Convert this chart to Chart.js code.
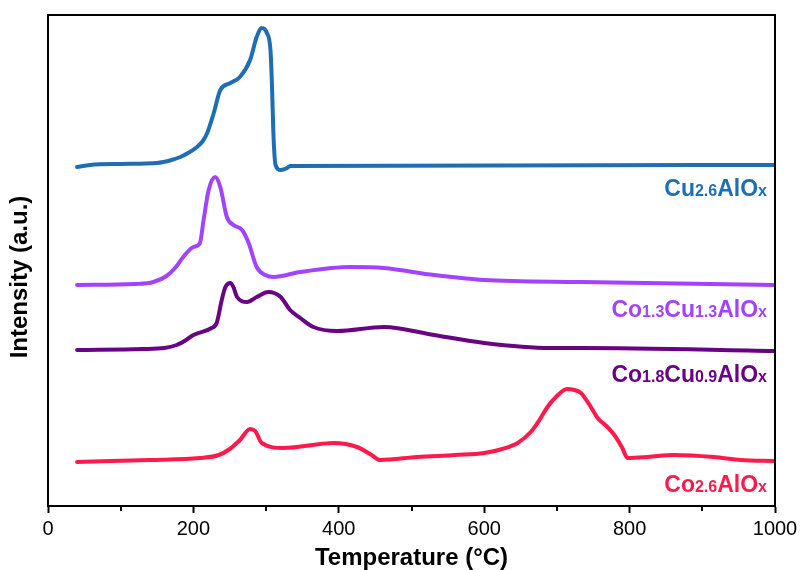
<!DOCTYPE html>
<html>
<head>
<meta charset="utf-8">
<script src="https://cdn.jsdelivr.net/npm/chart.js@4/dist/chart.umd.min.js"></script>
<style>
  body { margin: 0; background: #fff; }
  #wrap { width: 802px; height: 570px; }
</style>
</head>
<body>
<div id="wrap"><canvas id="tprChart" width="802" height="570"></canvas></div>
<script>
// H2-TPR profiles, intensity in arbitrary units (curves offset vertically)
const cuTemp   = [40, 58, 100, 150, 170, 182, 195, 205, 213, 219, 228, 237, 251, 264, 278, 287, 294, 301, 306, 308, 310, 313, 320, 329, 333, 1000];
const cuInt    = [339, 341, 342, 343, 346, 349, 354, 359, 365, 373, 393, 416, 423, 429, 446, 469, 478, 473, 456, 423, 373, 341, 336, 338, 340, 341];

const co13Temp = [40, 120, 145, 163, 176, 186, 200, 209, 214, 221, 230, 237, 246, 255, 267, 276, 287, 299, 310, 347, 416, 462, 531, 600, 733, 1000];
const co13Int  = [221, 222, 224, 230, 239, 249, 259, 263, 286, 316, 329, 319, 289, 281, 276, 263, 239, 231, 229, 234, 239, 238, 231, 226, 224, 221];

const co18Temp = [40, 130, 160, 177, 190, 200, 225, 232, 239, 244, 251, 255, 260, 274, 287, 303, 320, 333, 347, 365, 398, 462, 531, 600, 691, 733, 1000];
const co18Int  = [156, 157, 158, 161, 166, 171, 178, 183, 206, 219, 223, 219, 209, 204, 209, 214, 209, 196, 188, 179, 175, 179, 171, 163, 158, 158, 155];

const co26Temp = [40, 140, 209, 235, 250, 264, 278, 285, 294, 324, 393, 425, 445, 457, 508, 560, 600, 625, 646, 664, 676, 687, 700, 714, 724, 733, 745, 756, 768, 779, 790, 797, 825, 861, 916, 953, 1000];
const co26Int  = [44, 46, 48, 51, 57, 66, 77, 75, 63, 58, 63, 59, 51, 46, 49, 51, 53, 57, 63, 74, 86, 99, 110, 117, 116, 113, 101, 88, 80, 71, 58, 48, 49, 51, 49, 46, 45];

const xTicks = [0, 200, 400, 600, 800, 1000];
const xMinorTicks = [100, 300, 500, 700, 900];

// sample labels: [text, isSubscript] parts, and the intensity level of the baseline
const labelParts = [
    [['Cu', false], ['2.6', true], ['AlO', false], ['x', true]],
    [['Co', false], ['1.3', true], ['Cu', false], ['1.3', true], ['AlO', false], ['x', true]],
    [['Co', false], ['1.8', true], ['Cu', false], ['0.9', true], ['AlO', false], ['x', true]],
    [['Co', false], ['2.6', true], ['AlO', false], ['x', true]]
];
const labelLevel = [310, 189, 124, 14];
const colors = ['#1f6eb4', '#a143ff', '#680483', '#ff1a4b'];

function pts(xs, ys) {
    return xs.map((x, i) => ({ x: x, y: ys[i] }));
}

const FONT = '"Liberation Sans", Arial, Helvetica, sans-serif';

const framePlugin = {
    id: 'frame',
    afterDatasetsDraw(chart) {
        const ctx = chart.ctx;
        const a = chart.chartArea;
        const xs = chart.scales.x;
        const ys = chart.scales.y;
        ctx.save();
        // box
        ctx.strokeStyle = '#000';
        ctx.lineWidth = 2;
        ctx.strokeRect(a.left, a.top, a.right - a.left, a.bottom - a.top);
        // minor ticks
        xMinorTicks.forEach(v => {
            const px = Math.round(xs.getPixelForValue(v));
            ctx.beginPath();
            ctx.moveTo(px, a.bottom);
            ctx.lineTo(px, a.bottom + 5);
            ctx.stroke();
        });

        // sample labels, right aligned
        labelParts.forEach((parts, i) => {
            let widths = parts.map(p => {
                ctx.font = 'bold ' + (p[1] ? 16 : 23) + 'px ' + FONT;
                return ctx.measureText(p[0]).width;
            });
            const total = widths.reduce((s, w) => s + w, 0);
            let x = xs.getPixelForValue(1000) - 8 - total;
            const y = ys.getPixelForValue(labelLevel[i]);
            ctx.fillStyle = colors[i];
            ctx.textBaseline = 'alphabetic';
            ctx.textAlign = 'left';
            parts.forEach((p, j) => {
                ctx.font = 'bold ' + (p[1] ? 16 : 23) + 'px ' + FONT;
                ctx.fillText(p[0], x, y);
                x += widths[j];
            });
        });

        // y axis title
        ctx.translate(20, 277);
        ctx.rotate(-Math.PI / 2);
        ctx.font = 'bold 24px ' + FONT;
        ctx.fillStyle = '#000';
        ctx.textAlign = 'center';
        ctx.textBaseline = 'middle';
        ctx.fillText('Intensity (a.u.)', 0, 0);
        ctx.restore();
    }
};

const series = [
    { label: 'Cu2.6AlOx', data: pts(cuTemp, cuInt) },
    { label: 'Co1.3Cu1.3AlOx', data: pts(co13Temp, co13Int) },
    { label: 'Co1.8Cu0.9AlOx', data: pts(co18Temp, co18Int) },
    { label: 'Co2.6AlOx', data: pts(co26Temp, co26Int) }
];

new Chart(document.getElementById('tprChart'), {
    type: 'line',
    data: {
        datasets: series.map((s, i) => ({
            label: s.label,
            data: s.data,
            borderColor: colors[i],
            borderWidth: 4,
            pointRadius: 0,
            fill: false,
            cubicInterpolationMode: 'monotone',
            borderCapStyle: 'round',
            borderJoinStyle: 'round'
        }))
    },
    options: {
        responsive: false,
        animation: false,
        layout: { padding: { top: 15, right: 27, left: 0, bottom: 0 } },
        plugins: {
            legend: { display: false },
            tooltip: { enabled: false }
        },
        scales: {
            x: {
                type: 'linear',
                min: 0,
                max: 1000,
                afterBuildTicks: scale => { scale.ticks = xTicks.map(v => ({ value: v })); },
                afterFit: scale => { scale.height = 64; },
                grid: {
                    display: true,
                    drawOnChartArea: false,
                    tickLength: 7,
                    tickWidth: 2,
                    tickColor: '#000'
                },
                border: { display: true, color: '#000', width: 2 },
                ticks: {
                    color: '#000',
                    padding: 4,
                    font: { family: FONT, size: 20 },
                    callback: v => String(v)
                },
                title: {
                    display: true,
                    text: 'Temperature (°C)',
                    color: '#000',
                    padding: { top: 0, bottom: -3 },
                    font: { family: FONT, size: 24, weight: 'bold' }
                }
            },
            y: {
                min: 0,
                max: 491,
                afterFit: scale => { scale.width = 48; },
                grid: { display: false },
                border: { display: true, color: '#000', width: 2 },
                ticks: { display: false }
            }
        }
    },
    plugins: [framePlugin]
});
</script>
</body>
</html>
